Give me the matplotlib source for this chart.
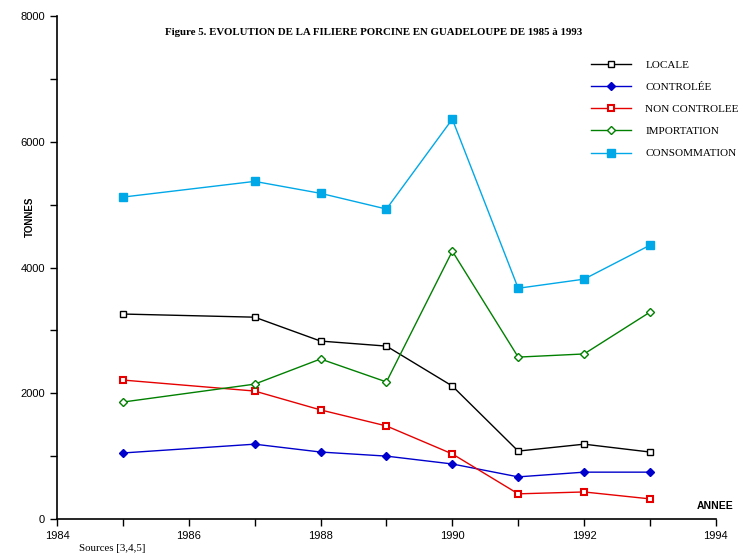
import matplotlib.pyplot as plt

years = [1985, 1987, 1988, 1989, 1990, 1991, 1992, 1993]
locale = [3260, 3210, 2830, 2750, 2115, 1080, 1190, 1065]
controlee = [1050, 1190, 1065, 1000, 875, 670, 745, 745]
non_controlee = [2210, 2035, 1735, 1480, 1035, 400, 430, 320]
importation = [1860, 2145, 2545, 2180, 4260, 2575, 2625, 3290]
consommation = [5120, 5370, 5180, 4930, 6360, 3670, 3815, 4355]

serif = 'Liberation Serif'
sans = 'Liberation Sans'

fig = plt.figure(figsize=(7.47, 5.53), dpi=100)
ax = fig.add_axes([0.0763, 0.0615, 0.882, 0.9095])

ax.plot(years, locale, color='black', lw=1, marker='s', ms=5, mfc='white', mec='black', mew=1, label='LOCALE')
ax.plot(years, controlee, color='#0000cc', lw=1, marker='D', ms=4, mfc='#0000cc', mec='#0000cc', label='CONTROLÉE')
ax.plot(years, non_controlee, color='#e60000', lw=1, marker='s', ms=5, mfc='white', mec='#e60000', mew=1.5, label='NON CONTROLEE')
ax.plot(years, importation, color='#008000', lw=1, marker='D', ms=4, mfc='white', mec='#008000', mew=1, label='IMPORTATION')
ax.plot(years, consommation, color='#00a8e8', lw=1, marker='s', ms=6, mfc='#00a8e8', mec='#00a8e8', label='CONSOMMATION')

ax.set_xlim(1984, 1994)
ax.set_ylim(0, 8000)
ax.set_xticks(range(1984, 1995))
ax.set_xticklabels([str(y) if y % 2 == 0 else '' for y in range(1984, 1995)])
ax.set_yticks(range(0, 8001, 1000))
ax.set_yticklabels([str(v) if v % 2000 == 0 else '' for v in range(0, 8001, 1000)])
for s in ['top', 'right']:
    ax.spines[s].set_visible(False)
ax.spines['left'].set_linewidth(1.2)
ax.spines['bottom'].set_linewidth(1.2)
ax.tick_params(direction='out', length=5, width=1, labelsize=8)
for lbl in ax.get_xticklabels() + ax.get_yticklabels():
    lbl.set_fontfamily(sans)

ax.set_ylabel('TONNES', fontsize=7, fontweight='bold', fontfamily=sans)
ax.yaxis.set_label_coords(-0.033, 0.6)

fig.text(0.5, 0.942, 'Figure 5. EVOLUTION DE LA FILIERE PORCINE EN GUADELOUPE DE 1985 à 1993',
         ha='center', va='center', fontsize=7.8, fontweight='bold', fontfamily=serif)
fig.text(0.982, 0.085, 'ANNEE', ha='right', va='center', fontsize=7.5, fontweight='bold', fontfamily=sans)
fig.text(0.106, 0.0, 'Sources [3,4,5]', ha='left', va='bottom', fontsize=7.8, fontfamily=serif)

leg = ax.legend(loc='upper left', bbox_to_anchor=(0.795, 0.933), frameon=False,
                handlelength=3.6, labelspacing=1.12, handletextpad=1.3,
                prop={'family': serif, 'size': 8})

fig.savefig('out.png', dpi=100)
